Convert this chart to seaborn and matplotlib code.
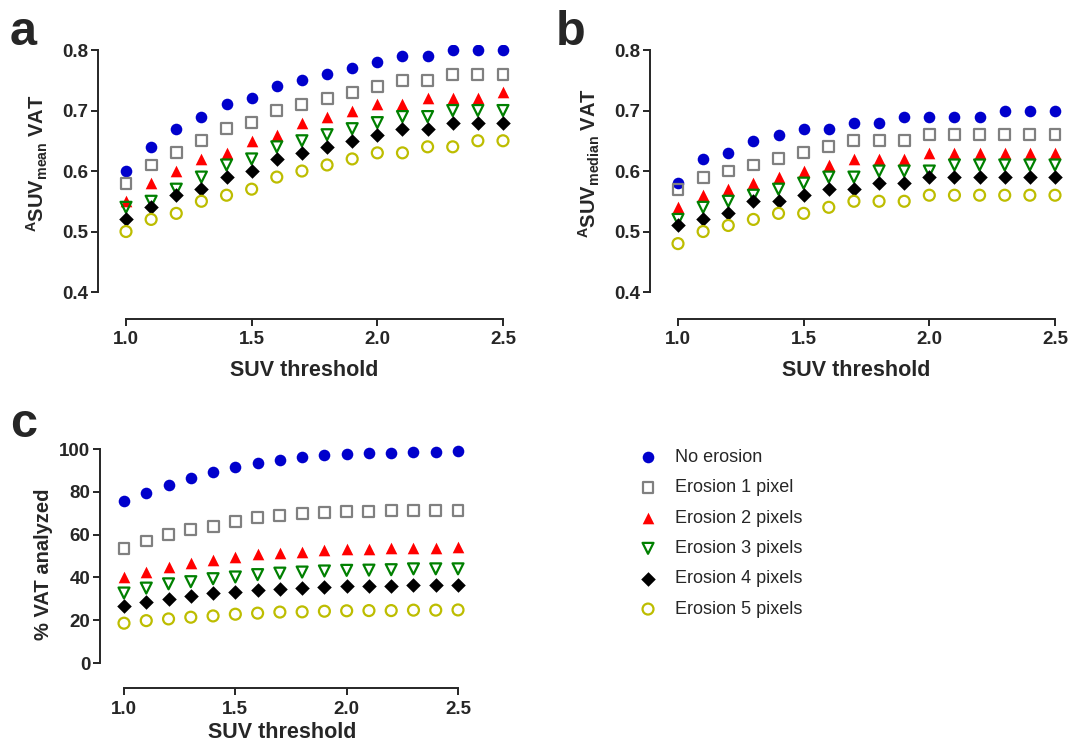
import pandas as pd
import seaborn as sns
import matplotlib.pyplot as plt

# SUV thresholds (x) shared by all panels
thresholds = [1.0, 1.1, 1.2, 1.3, 1.4, 1.5, 1.6, 1.7, 1.8, 1.9, 2.0, 2.1, 2.2, 2.3, 2.4, 2.5]

series_names = ["No erosion", "Erosion 1 pixel", "Erosion 2 pixels",
                "Erosion 3 pixels", "Erosion 4 pixels", "Erosion 5 pixels"]

# panel a: ASUV mean VAT
mean_no_erosion = [0.60, 0.64, 0.67, 0.69, 0.71, 0.72, 0.74, 0.75, 0.76, 0.77, 0.78, 0.79, 0.79, 0.80, 0.80, 0.80]
mean_erosion_1 = [0.58, 0.61, 0.63, 0.65, 0.67, 0.68, 0.70, 0.71, 0.72, 0.73, 0.74, 0.75, 0.75, 0.76, 0.76, 0.76]
mean_erosion_2 = [0.55, 0.58, 0.60, 0.62, 0.63, 0.65, 0.66, 0.68, 0.69, 0.70, 0.71, 0.71, 0.72, 0.72, 0.72, 0.73]
mean_erosion_3 = [0.54, 0.55, 0.57, 0.59, 0.61, 0.62, 0.64, 0.65, 0.66, 0.67, 0.68, 0.69, 0.69, 0.70, 0.70, 0.70]
mean_erosion_4 = [0.52, 0.54, 0.56, 0.57, 0.59, 0.60, 0.62, 0.63, 0.64, 0.65, 0.66, 0.67, 0.67, 0.68, 0.68, 0.68]
mean_erosion_5 = [0.50, 0.52, 0.53, 0.55, 0.56, 0.57, 0.59, 0.60, 0.61, 0.62, 0.63, 0.63, 0.64, 0.64, 0.65, 0.65]

# panel b: ASUV median VAT
median_no_erosion = [0.58, 0.62, 0.63, 0.65, 0.66, 0.67, 0.67, 0.68, 0.68, 0.69, 0.69, 0.69, 0.69, 0.70, 0.70, 0.70]
median_erosion_1 = [0.57, 0.59, 0.60, 0.61, 0.62, 0.63, 0.64, 0.65, 0.65, 0.65, 0.66, 0.66, 0.66, 0.66, 0.66, 0.66]
median_erosion_2 = [0.54, 0.56, 0.57, 0.58, 0.59, 0.60, 0.61, 0.62, 0.62, 0.62, 0.63, 0.63, 0.63, 0.63, 0.63, 0.63]
median_erosion_3 = [0.52, 0.54, 0.55, 0.56, 0.57, 0.58, 0.59, 0.59, 0.60, 0.60, 0.60, 0.61, 0.61, 0.61, 0.61, 0.61]
median_erosion_4 = [0.51, 0.52, 0.53, 0.55, 0.55, 0.56, 0.57, 0.57, 0.58, 0.58, 0.59, 0.59, 0.59, 0.59, 0.59, 0.59]
median_erosion_5 = [0.48, 0.50, 0.51, 0.52, 0.53, 0.53, 0.54, 0.55, 0.55, 0.55, 0.56, 0.56, 0.56, 0.56, 0.56, 0.56]

# panel c: % VAT analyzed
pct_no_erosion = [75.5, 79.4, 83.4, 86.6, 89.4, 91.6, 93.6, 95.0, 96.1, 97.2, 97.7, 98.1, 98.3, 98.8, 98.8, 99.1]
pct_erosion_1 = [53.4, 57.0, 60.0, 62.5, 64.0, 66.0, 67.8, 68.9, 69.8, 70.3, 70.6, 70.9, 71.2, 71.2, 71.4, 71.4]
pct_erosion_2 = [40.2, 42.5, 45.0, 46.7, 48.3, 49.5, 50.8, 51.4, 51.9, 52.7, 53.1, 53.2, 53.6, 53.7, 53.9, 54.0]
pct_erosion_3 = [32.7, 35.0, 37.0, 38.0, 39.4, 40.2, 41.3, 42.0, 42.5, 43.0, 43.3, 43.4, 43.6, 44.0, 44.0, 44.0]
pct_erosion_4 = [26.6, 28.4, 30.0, 31.4, 32.5, 33.1, 34.1, 34.4, 35.2, 35.5, 35.8, 36.0, 36.1, 36.4, 36.4, 36.6]
pct_erosion_5 = [18.6, 19.8, 20.6, 21.4, 22.0, 22.8, 23.3, 23.8, 23.9, 24.2, 24.4, 24.5, 24.5, 24.7, 24.7, 24.8]

colors = ["#0000CC", "#808080", "#FF0000", "#008000", "#000000", "#BDBD00"]
markers = ["o", "s", "^", "v", "D", "o"]
filled = [True, False, True, False, True, False]
sizes = [70, 62, 70, 62, 55, 62]


def long_table(values):
    rows = []
    for name, ys in zip(series_names, values):
        for x, y in zip(thresholds, ys):
            rows.append({"SUV threshold": x, "value": y, "series": name})
    return pd.DataFrame(rows)


df_mean = long_table([mean_no_erosion, mean_erosion_1, mean_erosion_2,
                      mean_erosion_3, mean_erosion_4, mean_erosion_5])
df_median = long_table([median_no_erosion, median_erosion_1, median_erosion_2,
                        median_erosion_3, median_erosion_4, median_erosion_5])
df_pct = long_table([pct_no_erosion, pct_erosion_1, pct_erosion_2,
                     pct_erosion_3, pct_erosion_4, pct_erosion_5])

sns.set_style("ticks")
plt.rcParams["font.family"] = ["Liberation Sans", "DejaVu Sans"]
plt.rcParams["mathtext.default"] = "regular"

W, H = 1071, 741
fig = plt.figure(figsize=(W / 100, H / 100), dpi=100)


def px_axes(left, top, right, bottom):
    return fig.add_axes([left / W, 1 - bottom / H, (right - left) / W, (bottom - top) / H])


ax_a = px_axes(98, 45, 510, 319)
ax_b = px_axes(650, 45, 1062, 319)
ax_c = px_axes(100, 444, 465, 688)


def draw(ax, df):
    for name, c, m, f, sz in zip(series_names, colors, markers, filled, sizes):
        sub = df[df["series"] == name]
        if f:
            sns.scatterplot(data=sub, x="SUV threshold", y="value", ax=ax, marker=m,
                            s=sz, color=c, edgecolor=c, linewidth=0, label=name, legend=False)
        else:
            sns.scatterplot(data=sub, x="SUV threshold", y="value", ax=ax, marker=m,
                            s=sz, facecolor="none", edgecolor=c, linewidth=1.6,
                            label=name, legend=False)


def style_axis(ax, xlim, ylim, ybounds, yticks, ylabel, label_xy):
    ax.set_xlim(*xlim)
    ax.set_ylim(*ylim)
    ax.set_xticks([1.0, 1.5, 2.0, 2.5])
    ax.set_xticklabels(["1.0", "1.5", "2.0", "2.5"])
    ax.set_yticks(yticks)
    for s in ["top", "right"]:
        ax.spines[s].set_visible(False)
    ax.spines["left"].set_bounds(*ybounds)
    ax.spines["bottom"].set_bounds(1.0, 2.5)
    for s in ["left", "bottom"]:
        ax.spines[s].set_linewidth(1.4)
    ax.tick_params(length=5, width=1.4, labelsize=13.5, pad=2)
    ax.tick_params(axis="x", pad=4)
    ax.set_xlabel("SUV threshold", fontsize=15.5, fontweight="bold", labelpad=8)
    ax.set_ylabel(ylabel, fontsize=14.5, fontweight="bold")
    ax.yaxis.set_label_coords(*label_xy)
    ax.grid(False)


draw(ax_a, df_mean)
draw(ax_b, df_median)
draw(ax_c, df_pct)

yt = [0.4, 0.5, 0.6, 0.7, 0.8]
style_axis(ax_a, (0.8886, 2.5279), (0.3554, 0.8083), (0.4, 0.8), yt,
           r"$^{A}$SUV$_{mean}$ VAT", (-0.1165, 0.57))
ax_a.set_yticklabels(["0.4", "0.5", "0.6", "0.7", "0.8"])
style_axis(ax_b, (0.8886, 2.5279), (0.3554, 0.8083), (0.4, 0.8), yt,
           r"$^{A}$SUV$_{median}$ VAT", (-0.1165, 0.57))
ax_b.set_yticklabels(["0.4", "0.5", "0.6", "0.7", "0.8"])
style_axis(ax_c, (0.8922, 2.5314), (-11.68, 102.34), (0, 100), [0, 20, 40, 60, 80, 100],
           "% VAT analyzed", (-0.129, 0.508))
ax_c.xaxis.labelpad = 3
for ax in [ax_a, ax_b, ax_c]:
    for t in ax.get_xticklabels() + ax.get_yticklabels():
        t.set_fontweight("bold")

# panel letters
fig.text(10 / W, 1 - 45 / H, "a", fontsize=35, fontweight="bold")
fig.text(556 / W, 1 - 45 / H, "b", fontsize=35, fontweight="bold")
fig.text(10 / W, 1 - 437 / H, "c", fontsize=35, fontweight="bold")

handles, labels = ax_c.get_legend_handles_labels()
fig.legend(handles, labels, loc="upper left", bbox_to_anchor=(639 / W, 1 - 449 / H),
           frameon=False, borderpad=0, borderaxespad=0, handlelength=1.0,
           handletextpad=1.0, labelspacing=0.74, fontsize=13)

plt.savefig("out.png", dpi=100)
plt.close()
